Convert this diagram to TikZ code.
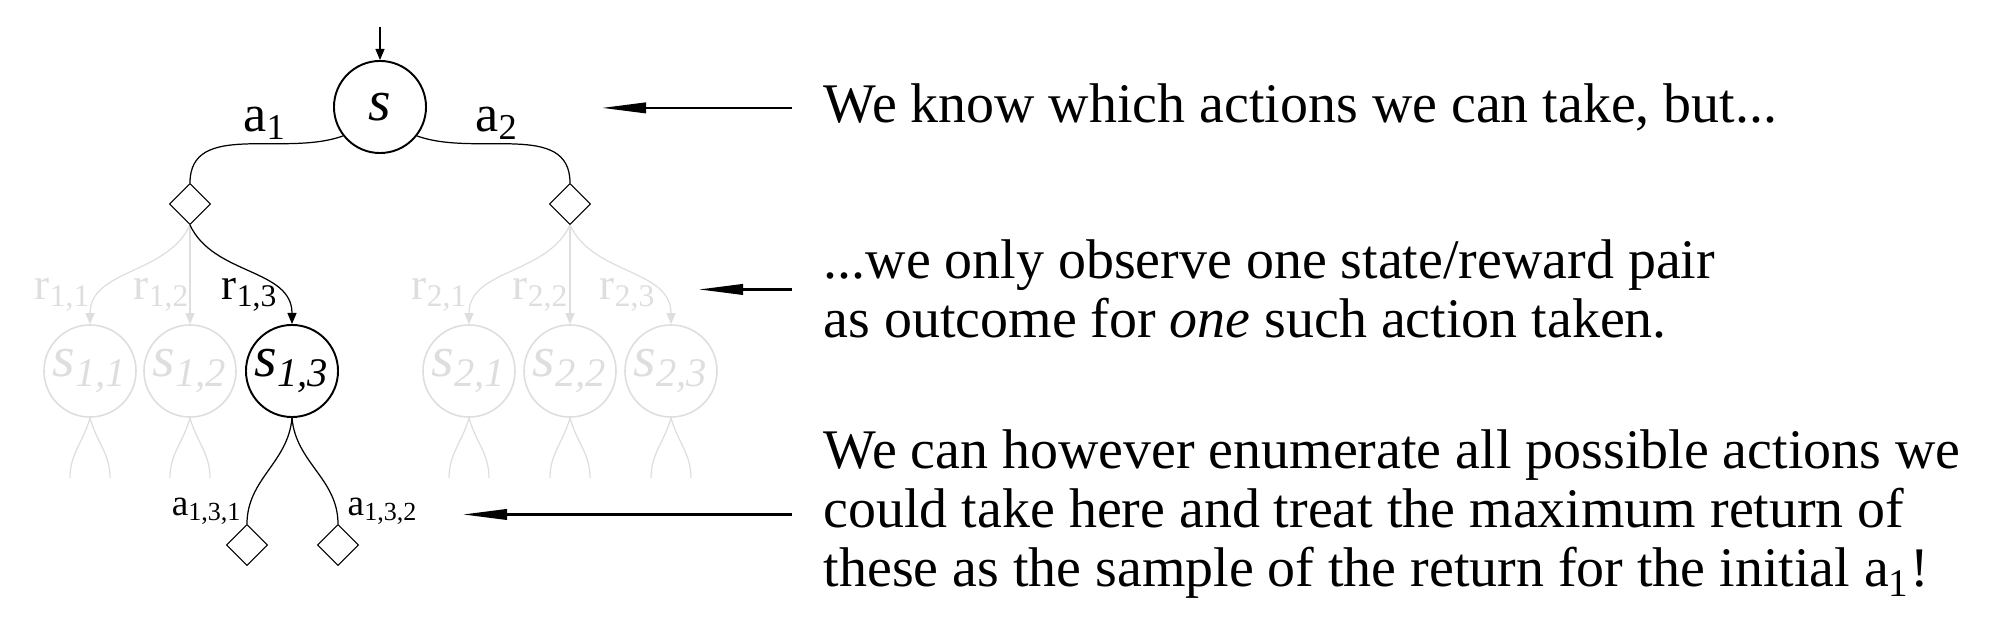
\documentclass[tikz,border=0pt]{standalone}
\usepackage{fontspec}
\setmainfont{Liberation Serif}
\usetikzlibrary{arrows.meta,shapes.geometric}
\newcommand{\pxUnit}{0.01cm}
\newcommand{\noteFont}{\fontsize{15.9}{16.8}\selectfont}
\colorlet{faded}{black!13}

\begin{document}
\begin{tikzpicture}[x=\pxUnit, y=\pxUnit,
		state/.style={circle, draw, line width=0.55pt, minimum size=0.92cm, inner sep=0pt, font=\fontsize{16.5}{18}\selectfont\itshape},
		ghost/.style={state, draw=faded, text=faded, line width=0.45pt},
		chance/.style={diamond, draw, aspect=1, line width=0.3pt, minimum width=0.41cm, minimum height=0.41cm, inner sep=0pt},
		branch/.style={line width=0.35pt},
		outcome/.style={branch, -{Triangle[length=1.1mm,width=0.9mm]}},
		pointer/.style={line width=0.6pt, -{Triangle[length=4.4mm,width=1.05mm]}},
		note/.style={align=left, inner sep=0pt, anchor=base west, font=\noteFont},
		albl/.style={inner sep=0pt, anchor=base, font=\fontsize{14.8}{16}\selectfont},
		rlbl/.style={inner sep=0pt, anchor=base, font=\fontsize{12.8}{14}\selectfont},
		leaflbl/.style={inner sep=0pt, font=\fontsize{10.6}{12}\selectfont}]
	\useasboundingbox (0,0) rectangle (2000,-634);

	% root and first actions
	\node[state] (s) at (380,-107) {s};
	\coordinate (entry) at (380,-27);
	\draw[outcome] (entry) -- (s);
	\node[chance] (d1) at (190,-204) {};
	\node[chance] (d2) at (570,-204) {};
	\draw[branch] (s.218) to[out=200,in=90] (d1.north);
	\draw[branch] (s.-38) to[out=-20,in=90] (d2.north);
	\node[albl] (la1) at (265,-132) {a\textsubscript{1}};
	\node[albl] (la2) at (497,-132) {a\textsubscript{2}};

	% successor states
	\node[ghost] (s11) at (90,-371) {s\textsubscript{1,1}};
	\node[ghost] (s12) at (190,-371) {s\textsubscript{1,2}};
	\node[state] (s13) at (292,-371) {s\textsubscript{1,3}};
	\node[ghost] (s21) at (469,-371) {s\textsubscript{2,1}};
	\node[ghost] (s22) at (570,-371) {s\textsubscript{2,2}};
	\node[ghost] (s23) at (671,-371) {s\textsubscript{2,3}};

	\draw[outcome, faded] (d1.south) to[out=-115,in=90] (s11.north);
	\draw[outcome, faded] (d1.south) -- (s12.north);
	\draw[outcome] (d1.south) to[out=-65,in=90] (s13.north);
	\draw[outcome, faded] (d2.south) to[out=-115,in=90] (s21.north);
	\draw[outcome, faded] (d2.south) -- (s22.north);
	\draw[outcome, faded] (d2.south) to[out=-65,in=90] (s23.north);

	\node[rlbl, text=faded] (r11) at (63,-300) {r\textsubscript{1,1}};
	\node[rlbl, text=faded] (r12) at (162,-300) {r\textsubscript{1,2}};
	\node[rlbl] (r13) at (250,-300) {r\textsubscript{1,3}};
	\node[rlbl, text=faded] (r21) at (440,-300) {r\textsubscript{2,1}};
	\node[rlbl, text=faded] (r22) at (541,-300) {r\textsubscript{2,2}};
	\node[rlbl, text=faded] (r23) at (628,-300) {r\textsubscript{2,3}};

	% unexplored stubs
	\foreach \n/\x in {s11/90, s12/190, s21/469, s22/570, s23/671} {
		\coordinate (\n-l) at (\x-20,-478);
		\coordinate (\n-r) at (\x+20,-478);
		\draw[branch, faded] (\n.south) to[out=-105,in=90] (\n-l);
		\draw[branch, faded] (\n.south) to[out=-75,in=90] (\n-r);
	}

	% actions from s_{1,3}
	\node[chance] (d131) at (247,-545) {};
	\node[chance] (d132) at (338,-545) {};
	\draw[branch] (s13.south) to[out=-95,in=90] (d131.north);
	\draw[branch] (s13.south) to[out=-85,in=90] (d132.north);
	\node[leaflbl, anchor=base east] (la131) at (243,-515) {a\textsubscript{1,3,1}};
	\node[leaflbl, anchor=base west] (la132) at (347,-515) {a\textsubscript{1,3,2}};

	% explanations
	\node[note] (n1) at (823,-123) {We know which actions we can take, but...};
	\node[note] (n2) at (823,-338) {...we only observe one state/reward pair\\as outcome for \textit{one} such action taken.};
	\node[note] (n3) at (823,-587) {We can however enumerate all possible actions we\\could take here and treat the maximum return of\\these as the sample of the return for the initial a\textsubscript{1}!};

	\coordinate (tip1) at (602,0);
	\coordinate (tip2) at (699,0);
	\coordinate (tip3) at (463,0);
	\draw[pointer, shorten <=0.31cm] (n1.west) -- (n1.west -| tip1);
	\draw[pointer, shorten <=0.31cm] (n2.west) -- (n2.west -| tip2);
	\draw[pointer, shorten <=0.31cm] (n3.west) -- (n3.west -| tip3);
\end{tikzpicture}
\end{document}
